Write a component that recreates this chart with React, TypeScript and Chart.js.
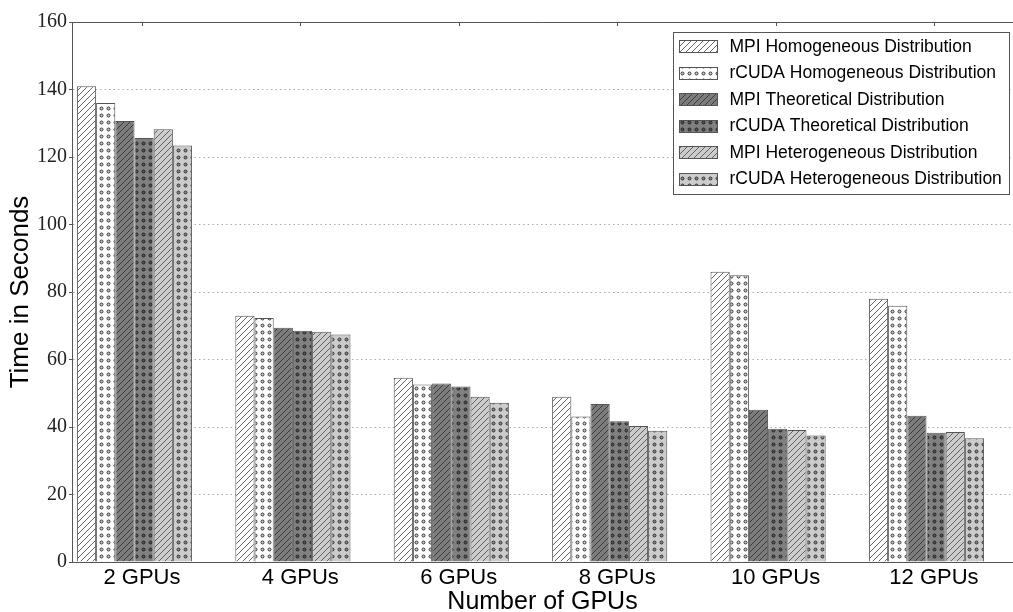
import React, { useEffect, useRef } from 'react';
import { Chart, registerables } from 'chart.js';

Chart.register(...registerables);

const categories = ['2 GPUs', '4 GPUs', '6 GPUs', '8 GPUs', '10 GPUs', '12 GPUs'];
const seriesNames = [
  'MPI Homogeneous Distribution',
  'rCUDA Homogeneous Distribution',
  'MPI Theoretical Distribution',
  'rCUDA Theoretical Distribution',
  'MPI Heterogeneous Distribution',
  'rCUDA Heterogeneous Distribution',
];
const mpiHomogeneous = [141.0, 73.0, 54.6, 49.0, 86.0, 78.0];
const rcudaHomogeneous = [136.0, 72.3, 52.6, 43.1, 85.0, 75.9];
const mpiTheoretical = [130.7, 69.4, 52.9, 46.8, 45.1, 43.3];
const rcudaTheoretical = [125.6, 68.5, 52.0, 41.7, 39.5, 38.3];
const mpiHeterogeneous = [128.2, 68.2, 49.0, 40.3, 39.1, 38.5];
const rcudaHeterogeneous = [123.4, 67.4, 47.2, 38.9, 37.5, 36.7];
const yMin = 0;
const yMax = 160;
const yStep = 20;

const seriesValues = [
  mpiHomogeneous,
  rcudaHomogeneous,
  mpiTheoretical,
  rcudaTheoretical,
  mpiHeterogeneous,
  rcudaHeterogeneous,
];
const seriesStyles = [
  { bg: '#ffffff', kind: 'hatch', ink: '#555555', dot: '' },
  { bg: '#ffffff', kind: 'dots', ink: '#333333', dot: '#cccccc' },
  { bg: '#7c7c7c', kind: 'hatch', ink: '#333333', dot: '' },
  { bg: '#808080', kind: 'dots', ink: '#222222', dot: '#555555' },
  { bg: '#cccccc', kind: 'hatch', ink: '#555555', dot: '' },
  { bg: '#cccccc', kind: 'dots', ink: '#333333', dot: '#888888' },
];

function makePattern(bg: string, kind: string, ink: string, dot: string): CanvasPattern | string {
  const c = document.createElement('canvas');
  const s = kind === 'hatch' ? 6 : 7;
  c.width = s;
  c.height = s;
  const g = c.getContext('2d');
  if (!g) return bg;
  g.fillStyle = bg;
  g.fillRect(0, 0, s, s);
  g.strokeStyle = ink;
  if (kind === 'hatch') {
    g.lineWidth = 0.9;
    g.beginPath();
    g.moveTo(-1, s + 1);
    g.lineTo(s + 1, -1);
    g.moveTo(-1, 1);
    g.lineTo(1, -1);
    g.moveTo(s - 1, s + 1);
    g.lineTo(s + 1, s - 1);
    g.stroke();
  } else {
    g.lineWidth = 1.0;
    g.beginPath();
    g.arc(s / 2, s / 2, 1.5, 0, Math.PI * 2);
    g.fillStyle = dot;
    g.fill();
    g.stroke();
  }
  const p = g.createPattern(c, 'repeat');
  return p || bg;
}

const labelShift = 0.047;

const framePlugin = {
  id: 'frameAndLegend',
  afterDatasetsDraw(chart: any) {
    const { ctx, chartArea: a, scales } = chart;
    ctx.save();
    ctx.strokeStyle = '#555555';
    ctx.lineWidth = 1;
    ctx.beginPath();
    ctx.moveTo(a.left, a.top + 0.5);
    ctx.lineTo(a.right, a.top + 0.5);
    scales.x.ticks.forEach((t: any) => {
      const px = Math.round(scales.x.getPixelForValue(t.value)) + 0.5;
      ctx.moveTo(px, a.top);
      ctx.lineTo(px, a.top + 4);
    });
    ctx.stroke();

    // legend
    const boxW = 336;
    const boxH = 162;
    const bx = Math.round(a.right - boxW - 4) + 0.5;
    const by = Math.round(a.top + 10) + 0.5;
    ctx.fillStyle = '#ffffff';
    ctx.fillRect(bx, by, boxW, boxH);
    ctx.strokeStyle = '#555555';
    ctx.strokeRect(bx, by, boxW, boxH);
    const rowH = 26.5;
    chart.data.datasets.forEach((ds: any, i: number) => {
      const cy = by + 13.5 + i * rowH;
      const sx = bx + 6;
      const sy = Math.round(cy - 6);
      ctx.fillStyle = ds.backgroundColor;
      ctx.fillRect(sx, sy, 38, 12);
      ctx.strokeStyle = '#555555';
      ctx.strokeRect(sx, sy + 0.5, 38, 12);
      ctx.fillStyle = '#000000';
      ctx.font = '17.5px "Liberation Sans", Arial, sans-serif';
      ctx.textBaseline = 'middle';
      ctx.textAlign = 'left';
      ctx.fillText(ds.label, bx + 56, cy + 1);
    });
    ctx.restore();
  },
};

export default function App() {
  const ref = useRef<HTMLCanvasElement | null>(null);

  useEffect(() => {
    document.body.style.margin = '0';
    document.body.style.overflow = 'hidden';
    const canvas = ref.current;
    if (!canvas) return;
    const datasets = seriesValues.map((vals, i) => {
      const st = seriesStyles[i];
      return {
        label: seriesNames[i],
        data: vals.map((v, k) => ({ x: k, y: v })),
        backgroundColor: makePattern(st.bg, st.kind, st.ink, st.dot),
        borderColor: '#555555',
        borderWidth: 1,
        categoryPercentage: 0.727,
        barPercentage: 1.0,
      };
    });
    const xLeftPx = 72;
    const groupCenterPx = 134.5;
    const groupPitchPx = 158.4;
    const xMin = (xLeftPx - groupCenterPx) / groupPitchPx;
    const xMax = (1013 - groupCenterPx) / groupPitchPx;

    const chart = new Chart(canvas, {
      type: 'bar',
      data: { datasets: datasets as any },
      plugins: [framePlugin],
      options: {
        animation: false,
        responsive: false,
        maintainAspectRatio: false,
        layout: { padding: { top: 22, left: 0, right: 0, bottom: 0 } },
        plugins: {
          legend: { display: false },
          tooltip: { enabled: false },
        },
        scales: {
          x: {
            type: 'linear',
            min: xMin,
            max: xMax,
            offset: false,
            afterFit: (scale: any) => {
              scale.height = 50;
            },
            afterBuildTicks: (scale: any) => {
              scale.ticks = categories.map((_, i) => ({ value: i + labelShift }));
            },
            grid: { display: false, drawTicks: false },
            border: { display: true, color: '#555555', width: 1 },
            ticks: {
              autoSkip: false,
              maxRotation: 0,
              padding: 3,
              color: '#000000',
              font: { family: '"Liberation Sans", Arial, sans-serif', size: 22 },
              callback: (value: any) => categories[Math.round(Number(value))],
            },
            title: {
              display: true,
              text: 'Number of GPUs',
              color: '#000000',
              font: { family: '"Liberation Sans", Arial, sans-serif', size: 25, lineHeight: 1.0 },
              padding: { top: 0, bottom: -3 },
            },
          },
          y: {
            min: yMin,
            max: yMax,
            afterFit: (scale: any) => {
              scale.width = 72;
            },
            grid: {
              color: '#aaaaaa',
              lineWidth: 1,
              drawTicks: true,
              tickLength: 3,
              tickColor: '#555555',
              tickBorderDash: [],
            },
            border: { display: true, color: '#555555', width: 1, dash: [1.5, 3] },
            ticks: {
              stepSize: yStep,
              padding: 2,
              color: '#222222',
              font: { family: '"Liberation Serif", "DejaVu Serif", serif', size: 20 },
            },
            title: {
              display: true,
              text: 'Time in Seconds',
              color: '#000000',
              font: { family: '"Liberation Sans", Arial, sans-serif', size: 26 },
              padding: { top: 5, bottom: 0 },
            },
          },
        },
      },
    });
    return () => chart.destroy();
  }, []);

  return (
    <div style={{ position: 'fixed', left: 0, top: 0, width: 1013, height: 612, background: '#ffffff' }}>
      <canvas ref={ref} width={1013} height={612} />
    </div>
  );
}
